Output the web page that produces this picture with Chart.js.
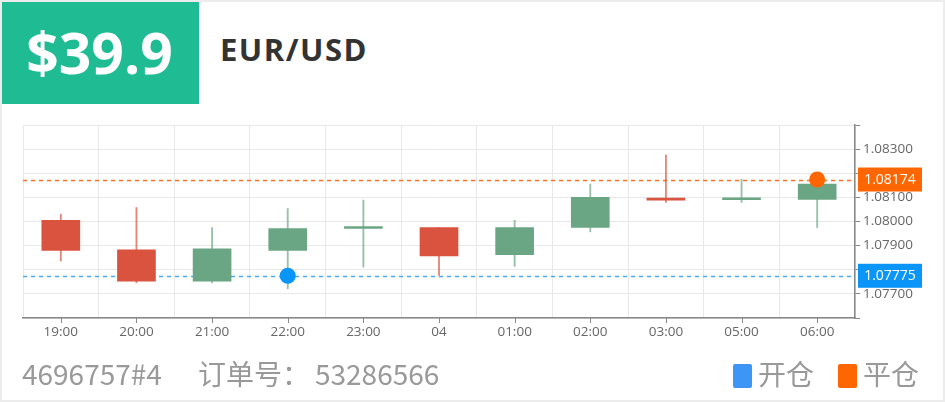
<!DOCTYPE html>
<html>
<head>
<meta charset="utf-8">
<script src="https://cdn.jsdelivr.net/npm/chart.js@4/dist/chart.umd.min.js"></script>
<style>
  html, body { margin: 0; padding: 0; background: #fff; }
  #wrap { position: relative; width: 941px; height: 398px; border: 2px solid #ececec; overflow: hidden; }
  #price { position: absolute; left: -2px; top: -2px; width: 199px; height: 104px; background: #1fbb93;
    color: #fff; font: bold 57px "Open Sans", sans-serif; line-height: 104px; text-align: center; }
  #pair { position: absolute; left: 218px; top: 26px; font: bold 31px "Open Sans", sans-serif; color: #333; letter-spacing: 1.5px; }
  #box { position: absolute; left: -2px; top: 106px; width: 945px; height: 250px; }
  .foot { position: absolute; top: 351px; font: 28px "Noto Sans CJK SC", sans-serif; color: #999; }
  .sq { position: absolute; top: 362px; width: 19px; height: 24px; border-radius: 2px; }
</style>
</head>
<body>
<div id="wrap">
  <div id="price">$39.9</div>
  <div id="pair">EUR/USD</div>
  <div id="box"><canvas id="kChart"></canvas></div>
  <div class="foot" style="left:20px">4696757#4</div>
  <div class="foot" style="left:196px">订单号：</div>
  <div class="foot" style="left:313px">53286566</div>
  <div class="sq" style="left:731px;background:#3d95f5"></div>
  <div class="foot" style="left:756px">开仓</div>
  <div class="sq" style="left:836px;background:#ff6600"></div>
  <div class="foot" style="left:861px">平仓</div>
</div>
<script>
const labels = ['19:00', '20:00', '21:00', '22:00', '23:00', '04', '01:00', '02:00', '03:00', '05:00', '06:00'];
const open  = [1.08005, 1.07883, 1.07753, 1.07880, 1.07971, 1.07975, 1.07863, 1.07975, 1.08097, 1.08090, 1.08092];
const close = [1.07880, 1.07753, 1.07887, 1.07971, 1.07972, 1.07857, 1.07975, 1.08100, 1.08088, 1.08092, 1.08155];
const high  = [1.08030, 1.08058, 1.07975, 1.08054, 1.08089, 1.07975, 1.08005, 1.08155, 1.08276, 1.08175, 1.08165];
const low   = [1.07836, 1.07746, 1.07746, 1.07721, 1.07811, 1.07776, 1.07814, 1.07957, 1.08079, 1.08079, 1.07975];

const openPrice = 1.07775, openAt = '22:00';
const closePrice = 1.08174, closeAt = '06:00';

const UP = '#6ba684', DOWN = '#d9533f';
const upWick = 'rgba(107,166,132,0.7)', downWick = 'rgba(217,83,63,0.7)';

const isUp = open.map((o, i) => close[i] >= o);
const bodyColors = isUp.map(u => u ? UP : DOWN);
const wickColors = isUp.map(u => u ? upWick : downWick);

const pointAt = (label, v) => labels.map(l => l === label ? v : null);

// dashed price lines + value tags on the right axis
const priceLines = {
  id: 'priceLines',
  beforeDatasetsDraw(chart) {
    const { ctx, chartArea, scales: { y } } = chart;
    [[openPrice, '#4aaaf5'], [closePrice, '#ff7022']].forEach(([v, c]) => {
      const py = Math.round(y.getPixelForValue(v)) + 0.5;
      ctx.save();
      ctx.strokeStyle = c;
      ctx.lineWidth = 1.5;
      ctx.setLineDash([4, 4]);
      ctx.beginPath();
      ctx.moveTo(chartArea.left, py);
      ctx.lineTo(chartArea.right, py);
      ctx.stroke();
      ctx.restore();
    });
  },
  afterDraw(chart) {
    const { ctx, chartArea, scales: { x, y } } = chart;
    ctx.save();
    // tick marks at category centres
    ctx.strokeStyle = '#888';
    ctx.lineWidth = 1;
    labels.forEach((l, i) => {
      const px = Math.round(x.getPixelForValue(i)) + 0.5;
      ctx.beginPath();
      ctx.moveTo(px, chartArea.bottom);
      ctx.lineTo(px, chartArea.bottom + 5);
      ctx.stroke();
    });
    [[openPrice, '#0a96f8'], [closePrice, '#ff6600']].forEach(([v, c]) => {
      const py = y.getPixelForValue(v);
      ctx.fillStyle = c;
      ctx.fillRect(chartArea.right + 3, py - 12, 64, 24);
      ctx.fillStyle = '#fff';
      ctx.font = '14px "Open Sans", sans-serif';
      ctx.textAlign = 'center';
      ctx.textBaseline = 'middle';
      ctx.fillText(v.toFixed(5), chartArea.right + 35, py);
    });
    ctx.restore();
  }
};

new Chart(document.getElementById('kChart'), {
  type: 'bar',
  data: {
    labels,
    datasets: [
      {
        type: 'line',
        data: pointAt(openAt, openPrice),
        showLine: false,
        pointRadius: 8,
        pointBackgroundColor: '#0a96f8',
        pointBorderWidth: 0,
        order: 0
      },
      {
        type: 'line',
        data: pointAt(closeAt, closePrice),
        showLine: false,
        pointRadius: 8,
        pointBackgroundColor: '#ff6600',
        pointBorderWidth: 0,
        order: 0
      },
      {
        data: open.map((o, i) => [o, close[i]]),
        backgroundColor: bodyColors,
        barThickness: 38,
        minBarLength: 2,
        grouped: false,
        order: 1
      },
      {
        data: low.map((l, i) => [l, high[i]]),
        backgroundColor: wickColors,
        barThickness: 1.2,
        grouped: false,
        order: 2
      }
    ]
  },
  options: {
    responsive: true,
    maintainAspectRatio: false,
    animation: false,
    layout: { padding: { left: 23, top: 17, right: 0, bottom: 0 } },
    plugins: { legend: { display: false }, tooltip: { enabled: false }},
    scales: {
      x: {
        grid: { color: '#e8e8e8', offset: true, drawTicks: false },
        border: { color: '#888', width: 1.5 },
        ticks: { color: '#666', font: { family: 'Open Sans', size: 13.5 }, padding: 6, maxRotation: 0, autoSkip: false },
        afterFit(s) { s.height = 40; }
      },
      y: {
        position: 'right',
        min: 1.076,
        max: 1.084,
        grid: { color: '#e8e8e8', tickColor: '#888', tickLength: 5 },
        border: { color: '#888', width: 1.5 },
        ticks: {
          stepSize: 0.001,
          color: '#666',
          font: { family: 'Open Sans', size: 13.5 },
          padding: 3,
          callback: (v, i, t) => (i === 0 || i === t.length - 1) ? '' : Number(v).toFixed(5)
        },
        afterFit(s) { s.width = 90; }
      }
    }
  },
  plugins: [priceLines]
});
</script>
</body>
</html>
